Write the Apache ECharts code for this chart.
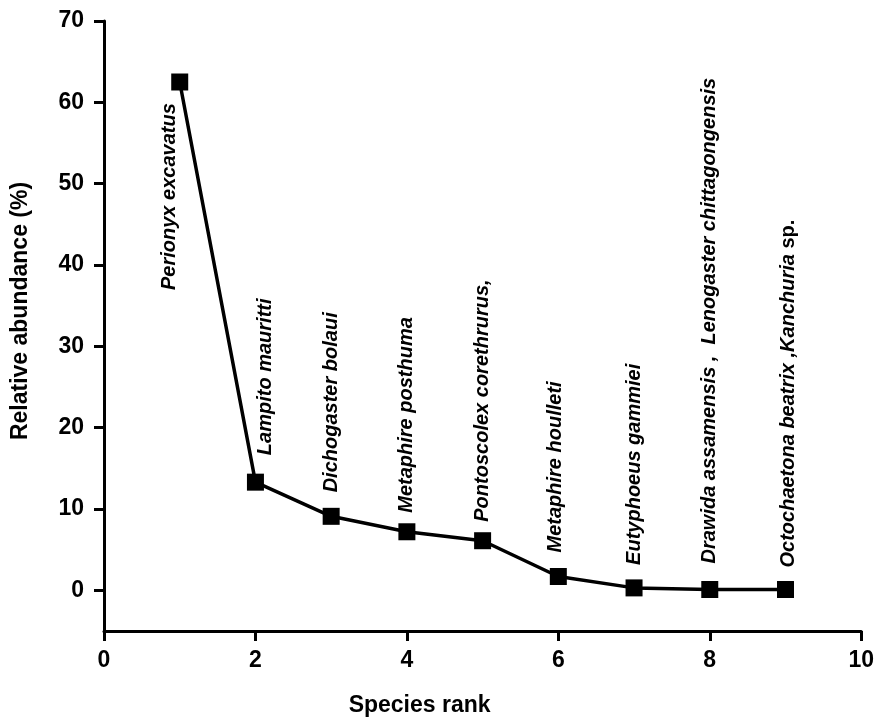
<!DOCTYPE html>
<html>
<head>
<meta charset="utf-8">
<script src="https://cdn.jsdelivr.net/npm/echarts@6/dist/echarts.min.js"></script>
<style>html,body{margin:0;padding:0;background:#fff}#c{width:877px;height:724px}</style>
</head>
<body>
<div id="c"></div>
<script>
var ranks = [1, 2, 3, 4, 5, 6, 7, 8, 9];
var abundance = [62.5, 13.3, 9.1, 7.2, 6.1, 1.7, 0.3, 0.1, 0.1];
var speciesLabels = [
  '{i|Perionyx excavatus}',
  '{i|Lampito mauritti}',
  '{i|Dichogaster bolaui}',
  '{i|Metaphire posthuma}',
  '{i|Pontoscolex corethrurus,}',
  '{i|Metaphire houlleti}',
  '{i|Eutyphoeus gammiei}',
  '{i|Drawida assamensis ,}  {i|Lenogaster chittagongensis}',
  '{i|Octochaetona beatrix ,Kanchuria} {n|sp.}'
];
// visual label shift from the marker centre: [right, down] in px
var labelShift = [[-10, 208], [10, -27], [0, -24], [0, -19], [0, -19], [-3, -24], [0, -23], [0, -26], [3, -22]];
var yTicks = [0, 10, 20, 30, 40, 50, 60, 70];

var FONT = '"Liberation Sans", Arial, sans-serif';
var data = ranks.map(function (r, i) {
  return { value: [r, abundance[i]], label: { formatter: speciesLabels[i] } };
});

var chart = echarts.init(document.getElementById('c'));
chart.setOption({
  animation: false,
  grid: { left: 104, right: 15, top: 21, bottom: 93, containLabel: false },
  xAxis: {
    type: 'value', min: 0, max: 10, interval: 2,
    name: 'Species rank', nameLocation: 'middle', nameGap: 63,
    nameTextStyle: { fontFamily: FONT, fontWeight: 'bold', fontSize: 23, color: '#000', padding: [0, 126, 0, 0] },
    axisLine: { onZero: false, lineStyle: { color: '#000', width: 3 } },
    axisTick: { inside: false, length: 10, lineStyle: { color: '#000', width: 3 } },
    axisLabel: { fontFamily: FONT, fontWeight: 'bold', fontSize: 23, color: '#000', margin: 18 },
    splitLine: { show: false }
  },
  yAxis: {
    type: 'value', min: -5, max: 70, interval: 5,
    name: 'Relative abundance (%)', nameLocation: 'middle', nameGap: 72, nameRotate: 90,
    nameTextStyle: { fontFamily: FONT, fontWeight: 'bold', fontSize: 23, color: '#000', padding: [0, 0, 0, 30] },
    axisLine: { onZero: false, lineStyle: { color: '#000', width: 3 } },
    axisTick: { inside: false, length: 10, customValues: yTicks, lineStyle: { color: '#000', width: 3 } },
    axisLabel: { fontFamily: FONT, fontWeight: 'bold', fontSize: 23, color: '#000', margin: 20, customValues: yTicks },
    splitLine: { show: false }
  },
  series: [{
    type: 'line',
    data: data,
    symbol: 'rect', symbolSize: 17,
    itemStyle: { color: '#000' },
    lineStyle: { color: '#000', width: 3.5 },
    label: {
      show: true, position: 'inside', rotate: 90, align: 'left', verticalAlign: 'middle',
      color: '#000', fontFamily: FONT, fontSize: 20, fontWeight: 'bold',
      rich: {
        i: { fontFamily: FONT, fontSize: 20, fontWeight: 'bold', fontStyle: 'italic', color: '#000' },
        n: { fontFamily: FONT, fontSize: 20, fontWeight: 'bold', color: '#000' }
      }
    },
    labelLayout: function (p) {
      var s = labelShift[p.dataIndex];
      // label offsets are applied in the rotated (90°) text frame
      return { dx: -s[1], dy: s[0], hideOverlap: false };
    }
  }]
});
</script>
</body>
</html>
